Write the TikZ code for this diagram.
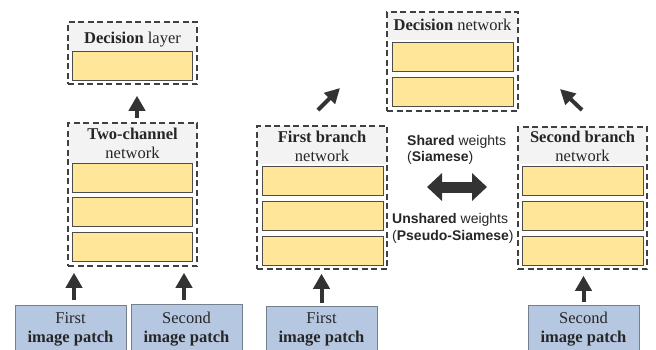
\documentclass[tikz,border=0pt]{standalone}
\usepackage{fontspec}
\setmainfont{Liberation Serif}
\setsansfont{Liberation Sans}
\newfontfamily\ttlserif{Liberation Serif}
\usetikzlibrary{arrows.meta,calc}
\definecolor{baryellow}{HTML}{FFE699}
\definecolor{bandgray}{HTML}{F3F3F3}
\definecolor{patchblue}{HTML}{B6C8E1}
\definecolor{patchedge}{HTML}{74808E}
\definecolor{dashgray}{HTML}{404040}
\definecolor{arrowdark}{HTML}{333333}
\begin{document}
\begin{tikzpicture}[x=1pt,y=-1pt,
  dashbox/.style={draw=dashgray,line width=1.5pt,dash pattern=on 6pt off 3.5pt,minimum width=#1,inner sep=0pt},
  band/.style={fill=bandgray,draw=none,inner sep=0pt,minimum width=#1},
  bar/.style={draw=black!70,line width=0.8pt,fill=baryellow,minimum width=121pt,minimum height=29pt,inner sep=0pt},
  patch/.style={draw=patchedge,line width=0.8pt,fill=patchblue,minimum width=111pt,minimum height=56pt,inner sep=0pt,anchor=north},
  ttl/.style={font=\ttlserif\fontsize{16.5}{19}\selectfont,align=center,inner sep=0pt,text=black!85},
  sans/.style={font=\sffamily\fontsize{14}{16}\selectfont,inner sep=0pt,anchor=west,text=black!85},
  uparrow/.style={draw=arrowdark,line width=4pt,-{Triangle[width=16pt,length=15pt]}},
  dblarrow/.style={draw=arrowdark,line width=11pt,{Triangle[width=27pt,length=15pt]}-{Triangle[width=27pt,length=15pt]}}
]
\useasboundingbox (0,0) rectangle (656,349);
\begin{scope}
\clip (0,0) rectangle (656,349);

% ---------- Left: two-channel ----------
\node[band=129pt,minimum height=30pt] (dlband) at (132.5,37) {};
\node[dashbox=129pt,minimum height=62pt] (dl) at (132.5,53) {};
\node[ttl] (dltitle) at (132.5,40) {\textbf{Decision} layer};
\node[bar,minimum width=120pt] (dlbar) at (132,66) {};

\node[band=129pt,minimum height=40pt] (tcband) at (132.5,143) {};
\node[dashbox=129pt,minimum height=143pt] (tc) at (132.5,194.5) {};
\node[ttl] (tctitle) at (132.5,143) {\textbf{Two-channel}\\network};
\node[bar,minimum width=120pt] (tcb1) at (132,177.5) {};
\node[bar,minimum width=120pt] (tcb2) at (132,212) {};
\node[bar,minimum width=120pt] (tcb3) at (132,247) {};

\node[patch] (p1) at (70.5,305) {};
\node[ttl,anchor=center] (p1t) at (70.5,329) {First\\\textbf{image patch}};
\node[patch] (p2) at (186.5,304) {};
\node[ttl,anchor=center] (p2t) at (186.5,329) {Second\\\textbf{image patch}};

\draw[uparrow,shorten <=4pt,shorten >=11pt] ([xshift=4.5pt]tc.north) -- ([xshift=4.5pt]tc.north |- dl.south);
\draw[uparrow,shorten <=5pt,shorten >=6pt] ([xshift=3.5pt]p1.north) -- ([xshift=3.5pt]p1.north |- tc.south);
\draw[uparrow,shorten <=4pt,shorten >=6pt] ([xshift=-2.5pt]p2.north) -- ([xshift=-2.5pt]p2.north |- tc.south);

% ---------- Right: Siamese ----------
\node[band=131pt,minimum height=28pt] (dnband) at (452.5,26) {};
\node[dashbox=131pt,minimum height=99pt] (dn) at (452.5,61.5) {};
\node[ttl] (dntitle) at (452.5,25) {\textbf{Decision} network};
\node[bar] (dnb1) at (452.5,56.5) {};
\node[bar] (dnb2) at (452.5,91.5) {};

\node[band=130pt,minimum height=38pt] (fbband) at (322,145) {};
\node[dashbox=130pt,minimum height=143pt] (fb) at (322,197.5) {};
\node[ttl] (fbtitle) at (322,146) {\textbf{First branch}\\network};
\node[bar] (fbb1) at (322.5,181) {};
\node[bar] (fbb2) at (322.5,215.5) {};
\node[bar] (fbb3) at (322.5,250.5) {};

\node[band=129pt,minimum height=37pt] (sbband) at (582.5,145.5) {};
\node[dashbox=129pt,minimum height=142pt] (sb) at (582.5,198) {};
\node[ttl] (sbtitle) at (582.5,146) {\textbf{Second branch}\\network};
\node[bar] (sbb1) at (582.5,181) {};
\node[bar] (sbb2) at (582.5,215.5) {};
\node[bar] (sbb3) at (582.5,250.5) {};

\node[patch] (p3) at (321.5,306) {};
\node[ttl,anchor=center] (p3t) at (321.5,329) {First\\\textbf{image patch}};
\node[patch] (p4) at (583.5,305) {};
\node[ttl,anchor=center] (p4t) at (583.5,329) {Second\\\textbf{image patch}};

\draw[uparrow,shorten <=3pt,shorten >=4pt] (p3.north) -- (p3.north |- fb.south);
\draw[uparrow,shorten <=3pt,shorten >=6pt] (p4.north) -- (p4.north |- sb.south);

\coordinate (d1s) at (318,110);
\coordinate (d1e) at (340,88);
\coordinate (d2s) at (582,110);
\coordinate (d2e) at (560,89);
\draw[draw=arrowdark,line width=4pt,-{Triangle[width=15pt,length=15pt]}] (d1s) -- (d1e);
\draw[draw=arrowdark,line width=4pt,-{Triangle[width=15pt,length=15pt]}] (d2s) -- (d2e);

\node[sans] (sw) at (407,142) {\textbf{Shared} weights};
\node[sans] (sws) at (407,158) {(\textbf{Siamese})};
\coordinate (dal) at (427,187);
\coordinate (dar) at (487,187);
\draw[dblarrow] (dal) -- (dar);
\node[sans] (uw) at (392,220) {\textbf{Unshared} weights};
\node[sans] (uws) at (392,237) {(\textbf{Pseudo-Siamese})};
\end{scope}
\end{tikzpicture}
\end{document}
